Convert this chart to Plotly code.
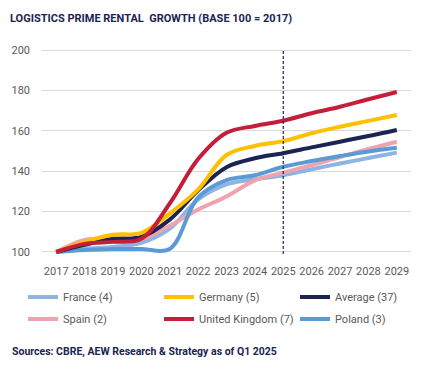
import plotly.graph_objects as go

years = list(range(2017, 2030))
tick_labels = [str(y) for y in years]

france = [100, 101.5, 102.5, 104.5, 111.5, 126, 133.5, 136, 138, 141, 143.8, 146.5, 149.2]
germany = [100, 105, 108.5, 109.5, 119, 131, 148, 152.5, 154.9, 158.8, 162, 164.9, 167.8]
average = [100, 103.5, 106.5, 107.5, 116, 130.5, 142, 146.4, 148.9, 151.8, 154.6, 157.4, 160.4]
spain = [100, 106, 106.5, 106.5, 113, 121, 127.5, 135.5, 139.3, 143, 147, 151, 154.6]
uk = [100, 104, 105, 106.5, 124, 146, 159, 162.4, 165, 168.7, 171.9, 175.6, 179.2]
poland = [100, 101, 101.5, 101.5, 101.5, 127, 135.6, 138, 142.2, 145, 147.5, 149.8, 151.6]

# name, values, colour, legend column, legend row
series = [
    ("France (4)", france, "#8DB4E2", 0, 0),
    ("Germany (5)", germany, "#FFC000", 1, 0),
    ("Average (37)", average, "#1B2452", 2, 0),
    ("Spain (2)", spain, "#EFA3AE", 0, 1),
    ("United Kingdom (7)", uk, "#C41E3A", 1, 1),
    ("Poland (3)", poland, "#5B9BD5", 2, 1),
]

FONT = "Roboto, Liberation Sans, sans-serif"
NAVY = "#1B2452"
GRAY = "#595959"

PLOT_L, PLOT_W, PLOT_B, PLOT_H = 42, 369, 254, 205
col_px = [23, 159, 295]
row_px = [297, 319]

fig = go.Figure()
legends = {}
draw_order = [0, 3, 5, 2, 1, 4]
for i in draw_order:
    name, vals, color, col, row = series[i]
    leg = "legend" if i == 0 else f"legend{i + 1}"
    fig.add_trace(go.Scatter(
        x=years, y=vals, name=name, mode="lines",
        line=dict(color=color, width=4, shape="spline"),
        legend=leg,
    ))
    legends[leg] = dict(
        orientation="h", xref="paper", yref="paper",
        x=(col_px[col] - PLOT_L) / PLOT_W, y=(PLOT_B - row_px[row]) / PLOT_H,
        xanchor="left", yanchor="middle",
        font=dict(size=11, color=GRAY), itemwidth=30,
        bgcolor="rgba(0,0,0,0)",
    )

fig.add_shape(type="line", x0=2025, x1=2025, y0=0, y1=1, yref="paper",
              line=dict(color=NAVY, width=1.2, dash="3px,2px"))

fig.update_layout(
    width=429, height=372,
    margin=dict(l=PLOT_L, r=18, t=49, b=118, autoexpand=False),
    paper_bgcolor="white", plot_bgcolor="white",
    font=dict(family=FONT, size=11, color=GRAY),
    title=dict(text="<b>LOGISTICS PRIME RENTAL  GROWTH (BASE 100 = 2017)</b>",
               xref="container", x=10 / 429, xanchor="left",
               yref="container", y=1 - 18 / 372, yanchor="middle",
               font=dict(family=FONT, size=11, color=NAVY)),
    xaxis=dict(range=[2016.5, 2029.5], tickmode="array", tickvals=years, ticktext=tick_labels,
               showgrid=False, zeroline=False, showline=False, tickangle=0,
               tickfont=dict(size=11, color=GRAY), ticklabelstandoff=9),
    yaxis=dict(range=[99, 200.5], tickvals=[100, 120, 140, 160, 180, 200],
               showgrid=True, gridcolor="#D9D9D9", gridwidth=1, zeroline=False,
               showline=False, tickfont=dict(size=11, color=GRAY), ticklabelstandoff=11),
    showlegend=True,
    **legends,
)

fig.add_annotation(text="<b>Sources: CBRE, AEW Research &amp; Strategy as of Q1 2025</b>",
                   xref="paper", yref="paper", x=(10 - PLOT_L) / PLOT_W, y=(PLOT_B - 351) / PLOT_H,
                   xanchor="left", yanchor="middle", showarrow=False,
                   font=dict(family=FONT, size=10.5, color=NAVY))

fig.write_html("out.html", config={"displayModeBar": False},
               post_script="document.body.style.margin='0';")
